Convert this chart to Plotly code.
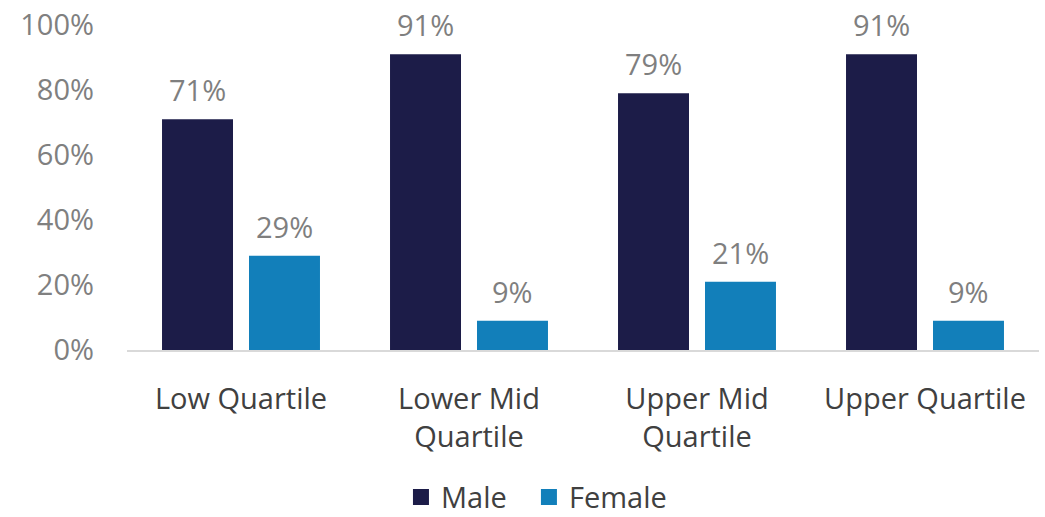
import plotly.graph_objects as go

categories = ["Low Quartile", "Lower Mid<br>Quartile", "Upper Mid<br>Quartile", "Upper Quartile"]
male = [0.71, 0.91, 0.79, 0.91]
female = [0.29, 0.09, 0.21, 0.09]
tick_vals = [0, 0.2, 0.4, 0.6, 0.8, 1.0]
series_names = ["Male", "Female"]

MALE_COLOR = "#1c1c48"
FEMALE_COLOR = "#127fba"
FONT = "Open Sans"
FS = 29

fig = go.Figure()
fig.add_trace(go.Bar(name=series_names[0], x=categories, y=male, marker_color=MALE_COLOR,
                     marker_line_width=0, showlegend=False))
fig.add_trace(go.Bar(name=series_names[1], x=categories, y=female, marker_color=FEMALE_COLOR,
                     marker_line_width=0, showlegend=False))
# legend entries with larger square swatches
for name, col in ((series_names[0] + "\u00a0\u2009\u2009", MALE_COLOR), (series_names[1], FEMALE_COLOR)):
    fig.add_trace(go.Scatter(name=name, x=[None], y=[None], mode="markers",
                             marker=dict(symbol="square", size=16, color=col)))

ann = []
for c, m, f in zip(categories, male, female):
    for v, sh in ((m, -43.5), (f, 43.5)):
        ann.append(dict(x=c, y=v, xref="x", yref="y", text=f"{round(v*100)}%",
                        showarrow=False, xshift=sh, yanchor="bottom", yshift=8,
                        font=dict(family=FONT, size=FS, color="#7f7f7f")))

fig.update_layout(
    width=1045, height=517,
    margin=dict(l=127, r=6, t=25, b=167, autoexpand=False),
    paper_bgcolor="white", plot_bgcolor="white",
    barmode="group", bargap=0.237, bargroupgap=0.184,
    font=dict(family=FONT, size=FS, color="#595959"),
    annotations=ann,
    legend=dict(orientation="h", x=0.3004, xanchor="left", y=-0.453, yanchor="middle",
                font=dict(family=FONT, size=FS, color="#404040"), itemwidth=30,
                traceorder="normal"),
    xaxis=dict(showline=True, linecolor="#d9d9d9", linewidth=2, ticks="",
               ticklabelstandoff=22,
               tickfont=dict(family=FONT, size=FS, color="#404040")),
    yaxis=dict(range=[0, 1], tickvals=tick_vals, tickformat=".0%", showgrid=False,
               zeroline=False, showline=False, ticklabelstandoff=32,
               tickfont=dict(family=FONT, size=FS, color="#808080")),
)

fig.write_html("out.html")
